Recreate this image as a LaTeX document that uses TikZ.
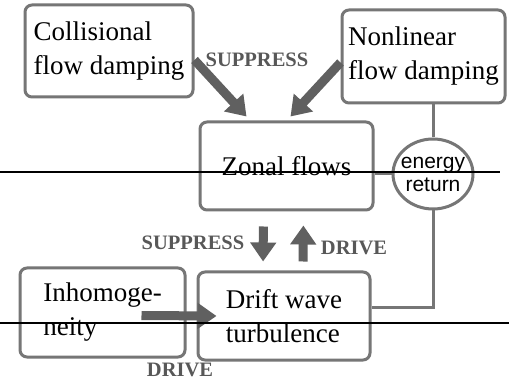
\documentclass[tikz,border=0pt]{standalone}
\usepackage{fontspec}
\setmainfont{Liberation Serif}
\newfontfamily\erfont{Liberation Sans}
\usetikzlibrary{arrows.meta,shapes.geometric}

\begin{document}
\begin{tikzpicture}[x=1pt,y=-1pt,
  box/.style={draw=boxgray,line width=3pt,rounded corners=7pt,fill=white,align=left,inner sep=0pt,font=\fontsize{27}{34}\selectfont},
  fat/.style={draw=arrowgray,line width=9pt,-{Triangle[width=25pt,length=19pt]}},
  link/.style={draw=boxgray,line width=3pt},
  tag/.style={text=taggray,font=\bfseries\fontsize{20.5}{20.5}\selectfont}]
% Define colors
\definecolor{boxgray}{RGB}{118,118,118}
\definecolor{arrowgray}{RGB}{96,96,96}
\definecolor{taggray}{RGB}{88,88,88}

\useasboundingbox[fill=white] (0,0) rectangle (509,382);

% Boxes
\node[box,minimum width=168pt,minimum height=92pt] (coll) at (109,51) {Collisional\\flow damping};
\node[box,minimum width=163pt,minimum height=93pt] (nl) at (423.5,56.5) {Nonlinear\\flow damping};
\node[box,align=center,minimum width=173pt,minimum height=88pt] (zf) at (286.5,166) {Zonal flows};
\node[box,minimum width=165pt,minimum height=89pt] (inh) at (102.5,312.5) {Inhomoge-\\neity};
\node[box,minimum width=172pt,minimum height=88pt] (dw) at (284,316) {Drift wave\\turbulence};

% Energy return
\node[ellipse,draw=boxgray,line width=3pt,fill=white,align=center,inner xsep=-8pt,inner ysep=0pt,
  minimum width=80pt,minimum height=70pt,font=\erfont\fontsize{21}{23}\selectfont] (er) at (433,174) {energy\\return};
\coordinate (dwin) at ([yshift=8pt]dw.east);
\draw[link] (er.north |- nl.south) -- (er.north);
\draw[link] (er.west -| zf.east) -- (er.west);
\draw[link] (er.south) -- (er.south |- dwin) -- (dwin);

% Suppress from damping
\draw[fat] ([yshift=-9pt]coll.east) -- ([xshift=-40pt,yshift=4pt]zf.north);
\draw[fat] ([yshift=-6pt]nl.west) -- ([xshift=4pt,yshift=4pt]zf.north);
\node[tag] at (257,60) {SUPPRESS};

% Zonal flows <-> turbulence
\draw[fat,shorten <=15pt,shorten >=9pt] ([xshift=-23pt]zf.south) -- ([xshift=-21pt]dw.north);
\draw[fat,shorten <=9pt,shorten >=14pt] ([xshift=19pt]dw.north) -- ([xshift=17pt]zf.south);
\node[tag] at (193,243) {SUPPRESS};
\node[tag] at (354,248) {DRIVE};

% Drive from inhomogeneity
\draw[fat] ([xshift=-45pt,yshift=-3pt]inh.east) -- ([xshift=20pt]dw.west);
\node[tag] at (180,370) {DRIVE};

% Scan lines
\draw[black,line width=1.2pt] (0,172) -- (500,172);
\draw[black,line width=1.2pt] (0,323) -- (509,323);

\end{tikzpicture}
\end{document}
